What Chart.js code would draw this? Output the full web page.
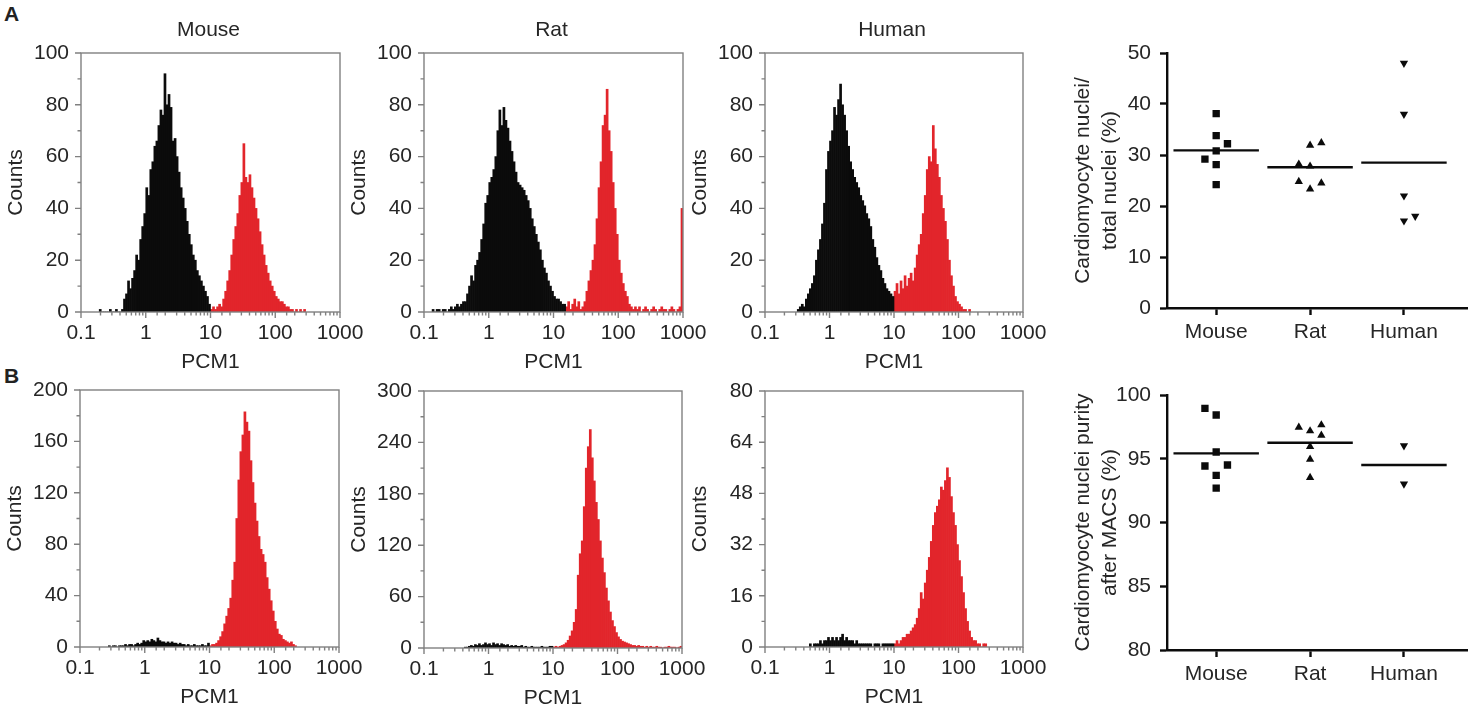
<!DOCTYPE html>
<html>
<head>
<meta charset="utf-8">
<title>PCM1 sorting of cardiomyocyte nuclei</title>
<script src="https://cdn.jsdelivr.net/npm/chart.js@4.4.0/dist/chart.umd.min.js"></script>
<style>
  body { margin: 0; width: 1473px; height: 711px; overflow: hidden; position: relative; background: #fff;
         font-family: "Liberation Sans", Arial, Helvetica, sans-serif; }
  canvas { position: absolute; }
  .letter { position: absolute; font-weight: bold; font-size: 21px; color: #222; }
</style>
</head>
<body>
<div class="letter" style="left:4px; top:2px">A</div>
<div class="letter" style="left:4px; top:364px">B</div>
<canvas id="histMouseA"></canvas>
<canvas id="histRatA"></canvas>
<canvas id="histHumanA"></canvas>
<canvas id="dotA"></canvas>
<canvas id="histMouseB"></canvas>
<canvas id="histRatB"></canvas>
<canvas id="histHumanB"></canvas>
<canvas id="dotB"></canvas>
<script>
"use strict";

// histogram bins: 32 per decade, bin 0 starts at PCM1 = 0.1
const BINS_PER_DECADE = 32;
const PCM1_MIN = 0.1;
const PCM1_MAX = 1000;

// A: unsorted nuclei (black = PCM1 negative, red = PCM1 positive)
const mouseABlackStart = 9;
const mouseABlack = [1, 0, 0, 0, 0, 1, 0, 0, 1, 0, 0, 1,
    5, 7, 12, 9, 13, 16, 22, 20, 28, 33, 38, 48, 45, 55, 58, 64, 66, 72, 78, 76, 92, 80, 84, 79,
    66, 67, 60, 54, 48, 44, 40, 35, 30, 26, 22, 20, 16, 14, 12, 10, 8, 6, 3];
const mouseARedStart = 64;
const mouseARed = [1, 2, 1, 2, 3, 2, 5, 8, 12, 16, 22, 28, 33, 38, 45, 50, 65, 52, 50, 53,
    48, 44, 40, 36, 31, 26, 22, 18, 15, 12, 10, 8, 6, 5, 4, 4, 3, 2, 2, 1, 1, 0, 1, 0, 1, 0, 1];

const ratABlackStart = 4;
const ratABlack = [1, 0, 1, 1, 0, 1, 1, 0, 1, 2, 1, 2, 3, 2, 3, 4, 4, 7, 10, 14,
    12, 18, 20, 23, 28, 34, 42, 45, 50, 52, 55, 60, 70, 78, 72, 79, 74, 71, 66, 62,
    58, 54, 50, 49, 48, 47, 45, 43, 40, 36, 33, 30, 27, 24, 20, 17, 15, 12, 10, 8,
    6, 5, 5, 4, 3, 3];
const ratARedStart = 70;
const ratARed = [2, 4, 1, 3, 5, 2, 4, 1, 2, 4, 8, 12, 16, 20, 26, 36, 48, 58, 72, 76,
    86, 70, 62, 50, 40, 30, 20, 15, 11, 8, 6, 3, 2, 1, 2, 1, 2, 0, 1, 2,
    1, 0, 1, 2, 1, 0, 1, 2, 1, 1, 0, 1, 2, 1, 0, 1, 2, 40];

const humanABlackStart = 16;
const humanABlack = [1, 2, 3, 2, 5, 7, 9, 11, 14, 20, 24, 28, 34, 42, 55, 62, 66, 70, 79, 76,
    82, 88, 80, 76, 70, 64, 58, 55, 52, 50, 48, 45, 43, 41, 38, 36, 33, 28, 25, 21,
    18, 16, 13, 11, 9, 8, 7, 6];
const humanARedStart = 64;
const humanARed = [8, 11, 7, 12, 9, 14, 10, 13, 15, 12, 17, 22, 26, 30, 38, 45, 55, 60, 58, 72,
    63, 57, 52, 45, 40, 35, 28, 20, 14, 10, 6, 4, 3, 2, 1, 1, 0, 1];

// B: nuclei after MACS
const mouseBBlackStart = 14;
const mouseBBlack = [1, 0, 1, 1, 0, 1, 1, 1, 2, 1, 2, 2, 1, 2, 3, 2, 3, 5, 4, 5,
    4, 6, 5, 4, 7, 5, 4, 4, 3, 4, 3, 4, 3, 3, 2, 3, 2, 2, 1, 2, 1, 1, 2, 1, 1, 1, 2, 1, 1, 3];
const mouseBRedStart = 64;
const mouseBRed = [1, 2, 2, 3, 5, 8, 12, 18, 24, 30, 38, 52, 66, 100, 130, 152, 165, 183, 175, 168,
    145, 128, 112, 98, 86, 76, 72, 66, 54, 45, 36, 28, 20, 14, 10, 9, 6, 5, 4, 3, 4, 2, 1];

const ratBBlackStart = 20;
const ratBBlack = [1, 1, 2, 3, 2, 4, 3, 5, 3, 4, 6, 4, 5, 3, 6, 4, 5, 3, 5, 4,
    3, 4, 2, 3, 2, 3, 2, 2, 3, 1, 2, 1, 1, 2, 1, 1, 1, 1, 2, 1, 1, 1, 2, 2];
const ratBRedStart = 64;
const ratBRed = [1, 2, 1, 2, 3, 4, 6, 9, 14, 20, 30, 45, 85, 110, 125, 165, 210, 235, 255, 222,
    195, 170, 150, 125, 105, 88, 70, 55, 42, 32, 25, 18, 13, 10, 8, 7, 6, 5, 4, 3,
    3, 2, 3, 2, 2, 1, 2, 1, 2, 1, 1, 2, 1, 1, 0, 1, 1, 2, 1, 1, 1, 0, 1, 2];

const humanBBlackStart = 22;
const humanBBlack = [1, 0, 1, 1, 1, 2, 1, 2, 2, 3, 2, 3, 2, 3, 2, 3, 4, 2, 3, 2,
    2, 2, 1, 2, 1, 1, 1, 1, 1, 1, 1, 0, 1, 1, 1, 0, 1, 1, 1, 1, 1, 1];
const humanBRedStart = 64;
const humanBRed = [1, 2, 1, 2, 3, 3, 4, 4, 5, 6, 7, 9, 12, 17, 15, 20, 24, 28, 33, 38,
    42, 44, 46, 50, 49, 52, 56, 53, 47, 42, 38, 32, 27, 22, 17, 12, 8, 5, 3, 2, 2, 1, 1, 0, 1, 1];

// dot plots
const species = ["Mouse", "Rat", "Human"];
const fractionMouse = [38.1, 33.8, 32.2, 30.8, 29.2, 28.1, 24.2];
const fractionRat = [31.9, 32.4, 28.2, 27.8, 24.8, 24.5, 23.3];
const fractionHuman = [48.0, 38.0, 22.0, 17.1, 18.0];
const fractionLines = [30.9, 27.6, 28.5];
const purityMouse = [98.95, 98.43, 95.53, 94.43, 94.51, 93.7, 92.7];
const purityRat = [97.46, 97.18, 97.65, 96.84, 95.95, 94.95, 93.52];
const purityHuman = [96.03, 93.02];
const purityLines = [95.42, 96.26, 94.51];
// which column of the dot cluster each point sits in (-1 left, 0 middle, 1 right)
const fractionMouseCol = [0, 0, 1, 0, -1, 0, 0];
const fractionRatCol = [0, 1, -1, 0, -1, 1, 0];
const fractionHumanCol = [0, 0, 0, 0, 1];
const purityMouseCol = [-1, 0, 0, -1, 1, 0, 0];
const purityRatCol = [-1, 0, 1, 1, 0, 0, 0];
const purityHumanCol = [0, 0];

const BLACK = "#0b0b0b";
const RED = "#e2252b";
const FRAME = "#808080";
const TEXT = "#262626";
const FONT = '"Liberation Sans", Arial, Helvetica, sans-serif';

Chart.defaults.font.family = FONT;
Chart.defaults.color = TEXT;
Chart.defaults.animation = false;
Chart.defaults.plugins.legend.display = false;
Chart.defaults.plugins.tooltip.enabled = false;


function binCenter(k) {
    return Math.pow(10, Math.log10(PCM1_MIN) + (k + 0.5) / BINS_PER_DECADE);
}

function binPoints(start, counts) {
    return counts.map((c, i) => ({ x: binCenter(start + i), y: c }));
}

function decadeLabel(v) {
    const l = Math.log10(v);
    return Math.abs(l - Math.round(l)) < 1e-6 ? String(v) : "";
}


// gray box, outward tick marks and panel title for the histograms
const histFrame = {
    id: "histFrame",
    afterDraw(chart, args, opts) {
        const { ctx, chartArea: a } = chart;
        const x = chart.scales.x, y = chart.scales.y;
        ctx.save();
        ctx.strokeStyle = FRAME;
        ctx.lineWidth = 1.4;
        ctx.strokeRect(a.left, a.top, a.right - a.left, a.bottom - a.top);
        ctx.beginPath();
        x.ticks.forEach(t => {
            const px = x.getPixelForValue(t.value);
            ctx.moveTo(px, a.bottom);
            ctx.lineTo(px, a.bottom + (t.label !== "" ? 6 : 3.5));
        });
        y.ticks.forEach(t => {
            const py = y.getPixelForValue(t.value);
            ctx.moveTo(a.left, py);
            ctx.lineTo(a.left - (t.label !== "" ? 6 : 3.5), py);
        });
        ctx.stroke();
        if (opts.title) {
            ctx.fillStyle = TEXT;
            ctx.font = "21px " + FONT;
            ctx.textAlign = "center";
            ctx.textBaseline = "middle";
            ctx.fillText(opts.title, (a.left + a.right) / 2 - 2, a.top - 23);
        }
        ctx.restore();
    }
};

const HIST_Y_AXIS_W = 81;
const HIST_PAD_TOP = 53;
const HIST_PAD_RIGHT = 26;
const HIST_X_AXIS_H = 63;

function makeHist(p) {
    const canvas = document.getElementById(p.id);
    const [x0, y0, x1, y1] = p.plot;
    canvas.width = (x1 - x0) + HIST_Y_AXIS_W + HIST_PAD_RIGHT;
    canvas.height = HIST_PAD_TOP + (y1 - y0) + HIST_X_AXIS_H;
    canvas.style.left = (x0 - HIST_Y_AXIS_W) + "px";
    canvas.style.top = (y0 - HIST_PAD_TOP) + "px";

    const bars = {
        grouped: false,
        barPercentage: 1,
        categoryPercentage: 1,
        borderWidth: 0
    };

    new Chart(canvas, {
        type: "bar",
        data: {
            datasets: [
                Object.assign({ data: binPoints(p.blackStart, p.black), backgroundColor: BLACK }, bars),
                Object.assign({ data: binPoints(p.redStart, p.red), backgroundColor: RED }, bars)
            ]
        },
        options: {
            responsive: false,
            layout: { padding: { top: HIST_PAD_TOP, right: HIST_PAD_RIGHT, left: 0, bottom: 0 } },
            scales: {
                x: {
                    type: "logarithmic",
                    min: PCM1_MIN,
                    max: PCM1_MAX,
                    offset: false,
                    grid: { display: false, drawTicks: false, offset: false },
                    border: { display: false },
                    ticks: { autoSkip: false, maxRotation: 0, padding: 9, font: { size: 21 }, callback: decadeLabel },
                    title: { display: true, text: "PCM1", font: { size: 21 }, padding: { top: 0, bottom: 0 } },
                    afterFit: s => {
                        s.height = HIST_X_AXIS_H;
                        s.paddingLeft = 0;
                        s.paddingRight = 0;
                    }
                },
                y: {
                    min: 0,
                    max: p.yMax,
                    grid: { display: false, drawTicks: false },
                    border: { display: false },
                    ticks: {
                        stepSize: p.yStep,
                        autoSkip: false,
                        padding: 12,
                        font: { size: 21 },
                        callback: v => (v % p.yLabelEvery === 0 ? String(v) : "")
                    },
                    title: { display: true, text: "Counts", font: { size: 21 }, padding: { top: 4, bottom: 0 } },
                    afterFit: s => { s.width = HIST_Y_AXIS_W; }
                }
            },
            plugins: { histFrame: { title: p.title } }
        },
        plugins: [histFrame]
    });
}


const DOT_Y_AXIS_W = 117;
const DOT_PAD_TOP = 53;
const DOT_X_AXIS_H = 45;
const JITTER = 0.12;
const LINE_HALF = 0.455;

function dotPoints(idx, values, cols) {
    return values.map((v, i) => ({ x: idx + 1 + cols[i] * JITTER, y: v }));
}

function makeDot(p) {
    const canvas = document.getElementById(p.id);
    const [x0, y0, x1, y1] = p.plot;
    canvas.width = (x1 - x0) + DOT_Y_AXIS_W;
    canvas.height = DOT_PAD_TOP + (y1 - y0) + DOT_X_AXIS_H;
    canvas.style.left = (x0 - DOT_Y_AXIS_W) + "px";
    canvas.style.top = (y0 - DOT_PAD_TOP) + "px";

    const marker = [
        { pointStyle: "rect", pointRadius: 5.2, pointRotation: 0 },
        { pointStyle: "triangle", pointRadius: 4.8, pointRotation: 0 },
        { pointStyle: "triangle", pointRadius: 4.8, pointRotation: 180 }
    ];
    const datasets = [];
    p.groups.forEach((g, i) => {
        datasets.push(Object.assign({
            data: dotPoints(i, g.values, g.cols),
            backgroundColor: BLACK,
            borderWidth: 0,
            showLine: false
        }, marker[i]));
        datasets.push({
            data: [{ x: i + 1 - LINE_HALF, y: p.lines[i] }, { x: i + 1 + LINE_HALF, y: p.lines[i] }],
            showLine: true,
            borderColor: BLACK,
            borderWidth: 2.4,
            pointRadius: 0
        });
    });

    const axisGrid = {
        display: true,
        drawOnChartArea: false,
        drawTicks: true,
        tickLength: 7,
        tickWidth: 2.4,
        tickColor: BLACK,
        color: BLACK
    };

    new Chart(canvas, {
        type: "scatter",
        data: { datasets },
        options: {
            responsive: false,
            layout: { padding: { top: DOT_PAD_TOP, right: 0, left: 0, bottom: 0 } },
            scales: {
                x: {
                    type: "linear",
                    min: 0.476,
                    max: 3.68,
                    grid: axisGrid,
                    border: { display: true, color: BLACK, width: 2.4 },
                    afterBuildTicks: s => { s.ticks = species.map((n, i) => ({ value: i + 1 })); },
                    ticks: { autoSkip: false, maxRotation: 0, padding: 5, font: { size: 21 }, callback: v => species[v - 1] },
                    afterFit: s => { s.height = DOT_X_AXIS_H; }
                },
                y: {
                    min: p.yMin,
                    max: p.yMax,
                    grid: axisGrid,
                    border: { display: true, color: BLACK, width: 2.4 },
                    ticks: { stepSize: p.yStep, autoSkip: false, padding: 9, font: { size: 21 } },
                    title: {
                        display: true,
                        text: p.yTitle,
                        font: { size: 21, lineHeight: 1.28 },
                        padding: { top: 19.5, bottom: 0 }
                    },
                    afterFit: s => { s.width = DOT_Y_AXIS_W; }
                }
            }
        }
    });
}


makeHist({ id: "histMouseA", title: "Mouse", plot: [81, 53, 340, 312],
    yMax: 100, yStep: 10, yLabelEvery: 20,
    blackStart: mouseABlackStart, black: mouseABlack, redStart: mouseARedStart, red: mouseARed });
makeHist({ id: "histRatA", title: "Rat", plot: [424, 53, 683, 312],
    yMax: 100, yStep: 10, yLabelEvery: 20,
    blackStart: ratABlackStart, black: ratABlack, redStart: ratARedStart, red: ratARed });
makeHist({ id: "histHumanA", title: "Human", plot: [765, 53, 1023, 312],
    yMax: 100, yStep: 10, yLabelEvery: 20,
    blackStart: humanABlackStart, black: humanABlack, redStart: humanARedStart, red: humanARed });

makeHist({ id: "histMouseB", title: "", plot: [80, 390, 339, 647],
    yMax: 200, yStep: 20, yLabelEvery: 40,
    blackStart: mouseBBlackStart, black: mouseBBlack, redStart: mouseBRedStart, red: mouseBRed });
makeHist({ id: "histRatB", title: "", plot: [424, 391, 682, 648],
    yMax: 300, yStep: 30, yLabelEvery: 60,
    blackStart: ratBBlackStart, black: ratBBlack, redStart: ratBRedStart, red: ratBRed });
makeHist({ id: "histHumanB", title: "", plot: [765, 391, 1023, 647],
    yMax: 80, yStep: 8, yLabelEvery: 16,
    blackStart: humanBBlackStart, black: humanBBlack, redStart: humanBRedStart, red: humanBRed });

makeDot({ id: "dotA", plot: [1167, 53, 1473, 308], yMin: 0, yMax: 50, yStep: 10,
    yTitle: ["Cardiomyocyte nuclei/", "total nuclei (%)"],
    lines: fractionLines,
    groups: [
        { values: fractionMouse, cols: fractionMouseCol },
        { values: fractionRat, cols: fractionRatCol },
        { values: fractionHuman, cols: fractionHumanCol }
    ] });
makeDot({ id: "dotB", plot: [1167, 395, 1473, 650], yMin: 80, yMax: 100, yStep: 5,
    yTitle: ["Cardiomyocyte nuclei purity", "after MACS (%)"],
    lines: purityLines,
    groups: [
        { values: purityMouse, cols: purityMouseCol },
        { values: purityRat, cols: purityRatCol },
        { values: purityHuman, cols: purityHumanCol }
    ] });
</script>
</body>
</html>
